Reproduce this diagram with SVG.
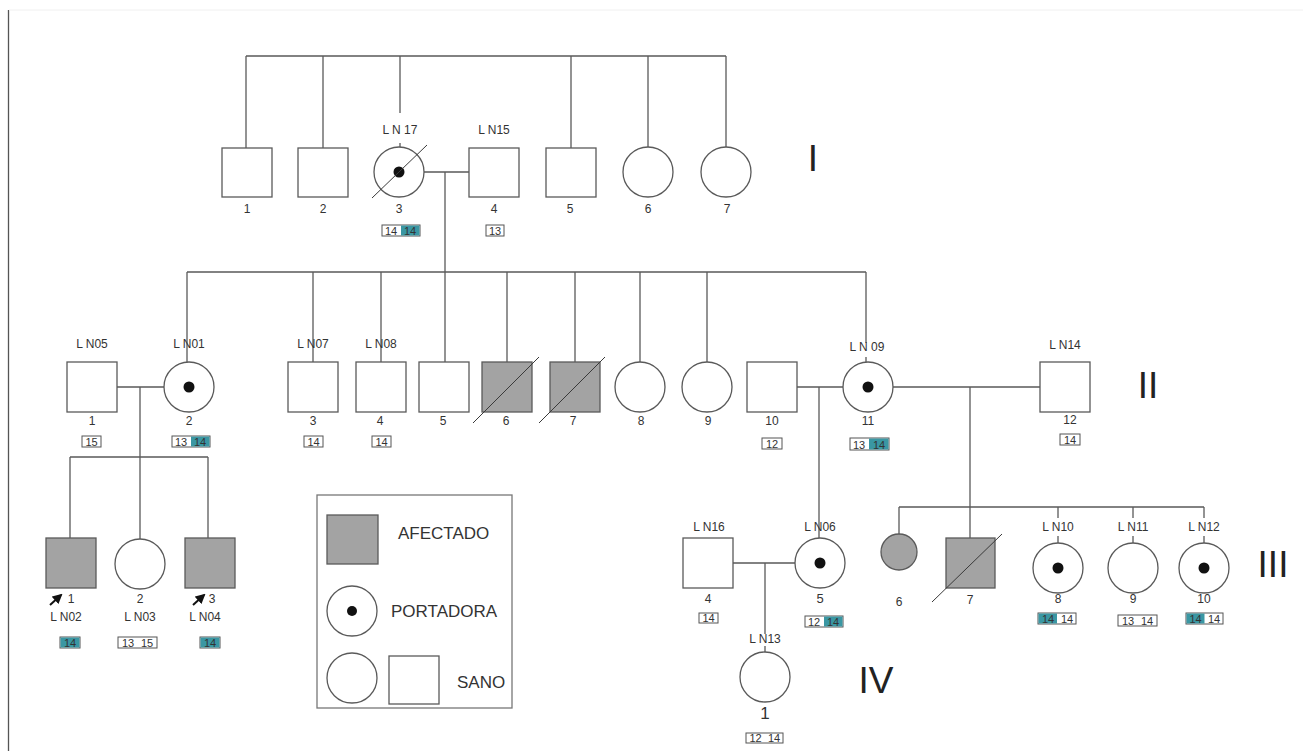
<svg xmlns="http://www.w3.org/2000/svg" width="1303" height="751" viewBox="0 0 1303 751">
<style>
.ln{stroke:#5a5a5a;stroke-width:1.3;fill:none}
.sh{stroke:#5a5a5a;stroke-width:1.3;fill:#fff}
.af{stroke:#5a5a5a;stroke-width:1.3;fill:#a3a3a3}
.sl{stroke:#3a3a3a;stroke-width:1;fill:none}
.dot{fill:#111}
text{font-family:"Liberation Sans",Arial,sans-serif;fill:#333}
.lb{font-size:12px;text-anchor:middle}
.nm{font-size:12px;text-anchor:middle}
.gt{font-size:11px;text-anchor:middle;fill:#333}
.gb{fill:#fff;stroke:#555;stroke-width:1}
.tl{fill:#3a97a3}
.rn{font-size:37px;text-anchor:middle;fill:#222}
.lg{font-size:17px;fill:#333}
</style>
<defs>
<marker id="ah" viewBox="0 0 10 10" refX="8" refY="5" markerWidth="5" markerHeight="5" orient="auto"><path d="M0,0 L10,5 L0,10 z" fill="#111"/></marker>
</defs>
<rect x="0" y="0" width="1303" height="751" fill="#fff"/>
<line x1="8.5" y1="10" x2="8.5" y2="751" stroke="#555" stroke-width="1.3"/>
<line x1="9" y1="10" x2="1303" y2="10" stroke="#f0f0f0" stroke-width="1"/>

<g id="connectors">
<path class="ln" d="M246,56 H726 M246,56 V148 M323,56 V148 M400,56 V113 M400,143 V147 M571,56 V148 M648,56 V147 M726,56 V147"/>
<path class="ln" d="M424,172 H469 M445,172 V362"/>
<path class="ln" d="M187,272 H866 M187,272 V362 M313,272 V362 M381,272 V362 M507,272 V362 M575,272 V362 M640,272 V362 M707,272 V362 M866,272 V343 M866,357 V362"/>
<path class="ln" d="M117,387 H164 M140,387 V457 M70,457 H208 M70,457 V538 M140,457 V539 M208,457 V538"/>
<path class="ln" d="M797,387 H843 M819,387 V538 M893,387 H1040 M970,387 V538"/>
<path class="ln" d="M899,507 H1204 M899,507 V534 M1058,507 V518 M1058,536 V543 M1133,507 V518 M1133,536 V543 M1204,507 V518 M1204,536 V543"/>
<path class="ln" d="M733,563 H795 M765,563 V634 M765,646 V652"/>
</g>

<g id="gen-I-1"><rect class="sh" x="222" y="148" width="50" height="49"/><text class="nm" x="247" y="213">1</text></g>
<g id="gen-I-2"><rect class="sh" x="298" y="148" width="50" height="49"/><text class="nm" x="323" y="213">2</text></g>
<g id="gen-I-3"><circle class="sh" cx="399" cy="172" r="25"/><circle class="dot" cx="399" cy="172" r="5.5"/><line class="sl" x1="372" y1="198" x2="427" y2="145"/><text class="lb" x="400" y="134">L N 17</text><text class="nm" x="399" y="213">3</text>
<rect class="gb" x="382" y="225" width="38" height="11"/><rect class="tl" x="401" y="225.5" width="18.5" height="10"/><text class="gt" x="391" y="235">14</text><text class="gt" x="410" y="235">14</text></g>
<g id="gen-I-4"><rect class="sh" x="469" y="148" width="50" height="49"/><text class="lb" x="494" y="134">L N15</text><text class="nm" x="494" y="213">4</text>
<rect class="gb" x="486" y="225" width="18" height="11"/><text class="gt" x="495" y="235">13</text></g>
<g id="gen-I-5"><rect class="sh" x="546" y="148" width="50" height="49"/><text class="nm" x="570" y="213">5</text></g>
<g id="gen-I-6"><circle class="sh" cx="648" cy="172" r="25"/><text class="nm" x="648" y="213">6</text></g>
<g id="gen-I-7"><circle class="sh" cx="726" cy="172" r="25"/><text class="nm" x="727" y="213">7</text></g>
<text class="rn" x="813" y="171">I</text>

<g id="gen-II-1"><rect class="sh" x="67" y="362" width="50" height="50"/><text class="lb" x="92" y="348">L N05</text><text class="nm" x="92" y="425">1</text>
<rect class="gb" x="82" y="436" width="19" height="11"/><text class="gt" x="91.5" y="446">15</text></g>
<g id="gen-II-2"><circle class="sh" cx="189" cy="387" r="25"/><circle class="dot" cx="189" cy="387" r="5.5"/><text class="lb" x="189" y="348">L N01</text><text class="nm" x="189" y="425">2</text>
<rect class="gb" x="172" y="436" width="38" height="11"/><rect class="tl" x="191" y="436.5" width="18.5" height="10"/><text class="gt" x="181" y="446">13</text><text class="gt" x="200" y="446">14</text></g>
<g id="gen-II-3"><rect class="sh" x="288" y="362" width="50" height="50"/><text class="lb" x="313" y="348">L N07</text><text class="nm" x="313" y="425">3</text>
<rect class="gb" x="304" y="436" width="19" height="11"/><text class="gt" x="313.5" y="446">14</text></g>
<g id="gen-II-4"><rect class="sh" x="356" y="362" width="50" height="50"/><text class="lb" x="381" y="348">L N08</text><text class="nm" x="380" y="425">4</text>
<rect class="gb" x="372" y="436" width="19" height="11"/><text class="gt" x="381.5" y="446">14</text></g>
<g id="gen-II-5"><rect class="sh" x="419" y="362" width="50" height="50"/><text class="nm" x="443" y="425">5</text></g>
<g id="gen-II-6"><rect class="af" x="482" y="362" width="50" height="50"/><line class="sl" x1="473" y1="423" x2="539" y2="357"/><text class="nm" x="506" y="425">6</text></g>
<g id="gen-II-7"><rect class="af" x="550" y="362" width="50" height="50"/><line class="sl" x1="539" y1="423" x2="605" y2="357"/><text class="nm" x="573" y="425">7</text></g>
<g id="gen-II-8"><circle class="sh" cx="640" cy="387" r="25"/><text class="nm" x="641" y="425">8</text></g>
<g id="gen-II-9"><circle class="sh" cx="707" cy="387" r="25"/><text class="nm" x="708" y="425">9</text></g>
<g id="gen-II-10"><rect class="sh" x="747" y="362" width="50" height="50"/><text class="nm" x="772" y="425">10</text>
<rect class="gb" x="762" y="438" width="20" height="11"/><text class="gt" x="772" y="448">12</text></g>
<g id="gen-II-11"><circle class="sh" cx="868" cy="387" r="25"/><circle class="dot" cx="868" cy="387" r="5.5"/><text class="lb" x="867" y="351">L N 09</text><text class="nm" x="868" y="425">11</text>
<rect class="gb" x="850" y="438" width="39" height="12"/><rect class="tl" x="869" y="438.5" width="19.5" height="11"/><text class="gt" x="859" y="448.5">13</text><text class="gt" x="879" y="448.5">14</text></g>
<g id="gen-II-12"><rect class="sh" x="1040" y="362" width="50" height="50"/><text class="lb" x="1065" y="349">L N14</text><text class="nm" x="1070" y="424">12</text>
<rect class="gb" x="1060" y="434" width="20" height="11"/><text class="gt" x="1070" y="444">14</text></g>
<text class="rn" x="1148" y="398">II</text>

<g id="gen-III-1"><rect class="af" x="46" y="538" width="50" height="50"/><line x1="50" y1="605" x2="61" y2="595" stroke="#111" stroke-width="2" marker-end="url(#ah)"/><text class="nm" x="71" y="603">1</text><text class="lb" x="66" y="621">L N02</text>
<rect class="gb" x="60" y="637" width="20" height="11"/><rect class="tl" x="60.5" y="637.5" width="19" height="10"/><text class="gt" x="70" y="647">14</text></g>
<g id="gen-III-2"><circle class="sh" cx="140" cy="564" r="25"/><text class="nm" x="140" y="603">2</text><text class="lb" x="140" y="621">L N03</text>
<rect class="gb" x="118" y="637" width="39" height="11"/><text class="gt" x="128" y="647">13</text><text class="gt" x="147" y="647">15</text></g>
<g id="gen-III-3"><rect class="af" x="185" y="538" width="50" height="50"/><line x1="193" y1="605" x2="204" y2="595" stroke="#111" stroke-width="2" marker-end="url(#ah)"/><text class="nm" x="212" y="603">3</text><text class="lb" x="205" y="621">L N04</text>
<rect class="gb" x="200" y="637" width="20" height="11"/><rect class="tl" x="200.5" y="637.5" width="19" height="10"/><text class="gt" x="210" y="647">14</text></g>
<g id="gen-III-4"><rect class="sh" x="683" y="538" width="50" height="50"/><text class="lb" x="709" y="531">L N16</text><text class="nm" x="708" y="603">4</text>
<rect class="gb" x="699" y="613" width="19" height="10"/><text class="gt" x="708.5" y="622">14</text></g>
<g id="gen-III-5"><circle class="sh" cx="820" cy="563" r="25"/><circle class="dot" cx="820" cy="563" r="5.5"/><text class="lb" x="820" y="531">L N06</text><text class="nm" x="820" y="603" style="font-size:13px">5</text>
<rect class="gb" x="805" y="616" width="38" height="11"/><rect class="tl" x="824" y="616.5" width="18.5" height="10"/><text class="gt" x="814" y="626">12</text><text class="gt" x="833" y="626">14</text></g>
<g id="gen-III-6"><circle class="af" cx="899" cy="552" r="18"/><text class="nm" x="899" y="606">6</text></g>
<g id="gen-III-7"><rect class="af" x="946" y="538" width="49" height="50"/><line class="sl" x1="932" y1="602" x2="1002" y2="534"/><text class="nm" x="970" y="604">7</text></g>
<g id="gen-III-8"><circle class="sh" cx="1058" cy="568" r="25"/><circle class="dot" cx="1058" cy="568" r="5.5"/><text class="lb" x="1058" y="531">L N10</text><text class="nm" x="1058" y="603">8</text>
<rect class="gb" x="1038" y="613" width="38" height="11"/><rect class="tl" x="1038.5" y="613.5" width="18.5" height="10"/><text class="gt" x="1048" y="623">14</text><text class="gt" x="1067" y="623">14</text></g>
<g id="gen-III-9"><circle class="sh" cx="1133" cy="568" r="25"/><text class="lb" x="1133" y="531">L N11</text><text class="nm" x="1133" y="603">9</text>
<rect class="gb" x="1118" y="615" width="39" height="11"/><text class="gt" x="1128" y="625">13</text><text class="gt" x="1147" y="625">14</text></g>
<g id="gen-III-10"><circle class="sh" cx="1204" cy="568" r="25"/><circle class="dot" cx="1204" cy="568" r="5.5"/><text class="lb" x="1204" y="531">L N12</text><text class="nm" x="1204" y="603">10</text>
<rect class="gb" x="1186" y="613" width="37" height="11"/><rect class="tl" x="1186.5" y="613.5" width="18" height="10"/><text class="gt" x="1195.5" y="623">14</text><text class="gt" x="1214" y="623">14</text></g>
<text class="rn" x="1273" y="577">III</text>

<g id="gen-IV-1"><circle class="sh" cx="765" cy="677" r="25"/><text class="lb" x="765" y="643">L N13</text><text class="nm" x="765" y="719" style="font-size:17px">1</text>
<rect class="gb" x="746" y="733" width="37" height="10"/><text class="gt" x="755.5" y="742">12</text><text class="gt" x="774" y="742">14</text></g>
<text class="rn" x="876" y="693">IV</text>

<g id="legend">
<rect x="317" y="495" width="195" height="213" fill="#fff" stroke="#777" stroke-width="1.3"/>
<rect class="af" x="327" y="515" width="51" height="49"/>
<text class="lg" x="398" y="539">AFECTADO</text>
<circle class="sh" cx="352" cy="611" r="25"/><circle class="dot" cx="352" cy="611" r="5"/>
<text class="lg" x="391" y="617">PORTADORA</text>
<circle class="sh" cx="352" cy="678" r="25"/>
<rect class="sh" x="389" y="656" width="50" height="48"/>
<text class="lg" x="457" y="688">SANO</text>
</g>
</svg>
